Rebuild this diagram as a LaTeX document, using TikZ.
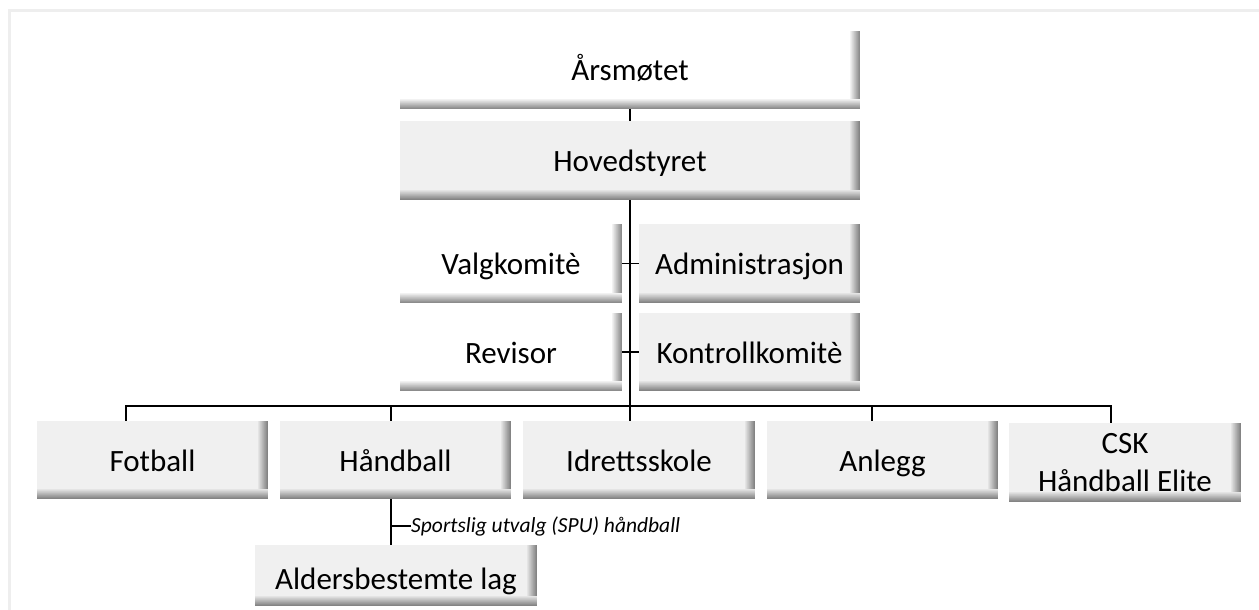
\documentclass[tikz,border=0pt]{standalone}
\usepackage{fontspec}
\setmainfont{Carlito}
\definecolor{boxgray}{RGB}{240,240,240}
\definecolor{framegray}{RGB}{238,238,238}

\begin{document}
\begin{tikzpicture}[x=1pt,y=1pt,
  orgbox/.style={fill=#1, inner sep=0pt, minimum height=78pt, align=center,
    text height=22pt, text depth=0pt,
    font=\fontsize{31}{38}\selectfont,
    path picture={
      \foreach \i in {0,...,9}{
        \pgfmathtruncatemacro\tint{55+\i*4.5}
        \fill[#1!\tint!black] ([yshift=\i*1pt]path picture bounding box.south west)
          rectangle ([yshift=\i*1pt+1.2pt]path picture bounding box.south east);
        \fill[#1!\tint!black] ([xshift=-\i*1pt-1.2pt]path picture bounding box.north east)
          rectangle ([xshift=-\i*1pt,yshift=\i*1pt]path picture bounding box.south east);
      }
    }},
  orgbox/.default=boxgray,
  link/.style={line width=1.5pt}]
  \useasboundingbox (0,0) rectangle (1259,-610);
  \draw[framegray,line width=2.5pt] (9.5,-610) -- (9.5,-10.5) -- (1259,-10.5);

  \node[orgbox=white,minimum width=460pt] (aars) at (630,-70) {Årsmøtet};
  \node[orgbox,minimum width=460pt,minimum height=79pt] (hoved) at (630,-160.5) {Hovedstyret};
  \node[orgbox=white,minimum width=222pt,minimum height=79pt] (valg) at (511,-263.5) {Valgkomitè};
  \node[orgbox,minimum width=221pt,minimum height=79pt] (admin) at (749.5,-263.5) {Administrasjon};
  \node[orgbox=white,minimum width=222pt] (revisor) at (511,-352) {Revisor};
  \node[orgbox,minimum width=221pt] (kontroll) at (749.5,-352) {Kontrollkomitè};

  \node[orgbox,minimum width=231pt] (fotball) at (152.5,-460) {Fotball};
  \node[orgbox,minimum width=231pt] (hand) at (395.5,-460) {Håndball};
  \node[orgbox,minimum width=232pt] (idrett) at (639,-460) {Idrettsskole};
  \node[orgbox,minimum width=231pt] (anlegg) at (882.5,-460) {Anlegg};
  \node[orgbox,minimum width=232pt,minimum height=79pt,text height=,text depth=] (csk) at (1125,-462.5) {CSK\\Håndball Elite};
  \node[orgbox,minimum width=282pt,minimum height=61pt,text height=27pt] (alder) at (396,-575.5) {Aldersbestemte lag};
  \node[anchor=west,inner sep=0pt,font=\fontsize{21.5}{25}\selectfont\itshape] (spu) at (411,-526) {Sportslig utvalg (SPU) håndball};

  \coordinate (busF) at (126,-406);
  \coordinate (busH) at (391,-406);
  \coordinate (busA) at (872,-406);
  \coordinate (busC) at (1111,-406);

  \draw[link] (aars) -- (hoved);
  \draw[link] (hoved.south) -- (hoved.south |- idrett.north);
  \draw[link] (valg.east) -- (admin.west);
  \draw[link] (revisor.east) -- (kontroll.west);
  \draw[link] (busF |- fotball.north) -- (busF) -- (busC) -- (busC |- csk.north);
  \draw[link] (busH) -- (busH |- hand.north);
  \draw[link] (busA) -- (busA |- anlegg.north);
  \draw[link] (busH |- hand.south) -- (busH |- alder.north);
  \draw[link] (busH |- spu.west) -- (spu.west);
\end{tikzpicture}
\end{document}
